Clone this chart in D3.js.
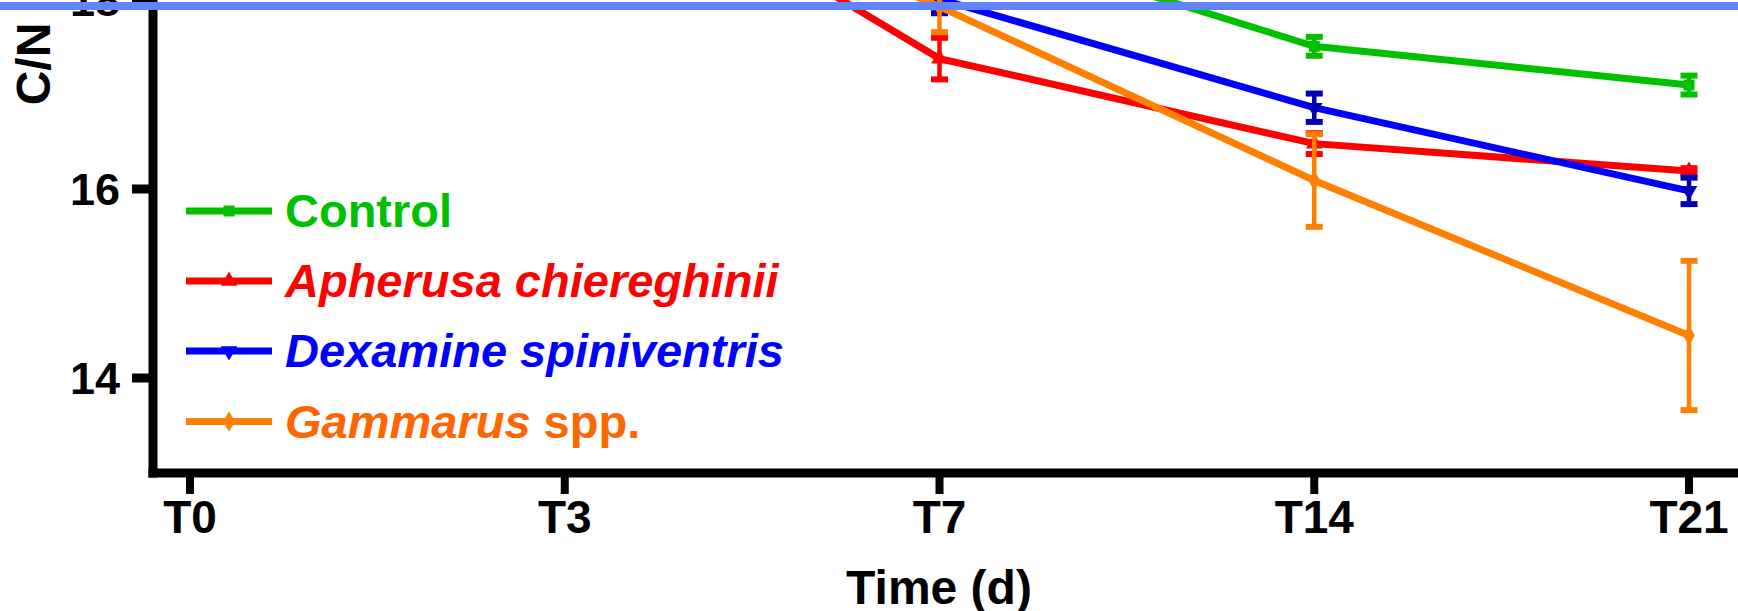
<!DOCTYPE html>
<html>
<head>
<meta charset="utf-8">
<script src="https://cdn.jsdelivr.net/npm/d3@7"></script>
<style>
  html, body { margin: 0; padding: 0; background: #ffffff; overflow: hidden; }
  svg { display: block; font-family: "Liberation Sans", Arial, sans-serif; }
</style>
</head>
<body>
<svg id="chart" width="1738" height="611"></svg>
<script>
// ---- data ----
const categories = ["T0", "T3", "T7", "T14", "T21"];
const seriesNames = ["Control", "Apherusa chiereghinii", "Dexamine spiniventris", "Gammarus spp."];
const controlMean   = [20.6, 19.9, 18.74, 17.51, 17.10];
const controlErr    = [0.10, 0.10, 0.10, 0.10, 0.10];
const apherusaMean  = [20.6, 19.75, 17.38, 16.48, 16.19];
const apherusaErr   = [0.10, 0.10, 0.22, 0.11, 0.03];
const dexamineMean  = [20.6, 19.5, 18.01, 16.86, 15.98];
const dexamineErr   = [0.10, 0.10, 0.15, 0.15, 0.14];
const gammarusMean  = [20.6, 19.6, 17.93, 16.09, 14.45];
const gammarusErr   = [0.10, 0.10, 0.27, 0.49, 0.79];
const yTickValues = [14, 16, 18, 20];
const yLabel = "C/N";
const xLabel = "Time (d)";

const series = [
  { name: seriesNames[0], mean: controlMean,  err: controlErr,  line: "#00c000", bar: "#00c000", text: "#00c000", sym: d3.symbolSquare,   rot: 0,   italic: false },
  { name: seriesNames[1], mean: apherusaMean, err: apherusaErr, line: "#ff0000", bar: "#ff0000", text: "#ff0000", sym: d3.symbolTriangle, rot: 0,   italic: true },
  { name: seriesNames[2], mean: dexamineMean, err: dexamineErr, line: "#0000ff", bar: "#0000b0", text: "#0000ff", sym: d3.symbolTriangle, rot: 180, italic: true },
  { name: seriesNames[3], mean: gammarusMean, err: gammarusErr, line: "#ff8000", bar: "#ff8000", text: "#ff6600", sym: d3.symbolDiamond,  rot: 0,   italic: "partial" }
];

const svg = d3.select("#chart");
const W = 1738, H = 611;

const x = d3.scalePoint().domain(categories).range([190, 1689]);
const y = d3.scaleLinear().domain([13, 21]).range([472.5, 472.5 - 8 * 94.5]);

const plot = svg.append("g");

// lines, error bars, markers
series.forEach(s => {
  const pts = categories.map((c, i) => ({ c, v: s.mean[i], e: s.err[i] }));
  plot.append("path")
    .datum(pts)
    .attr("fill", "none")
    .attr("stroke", s.line)
    .attr("stroke-width", 7)
    .attr("stroke-linejoin", "miter")
    .attr("d", d3.line().x(d => x(d.c)).y(d => y(d.v)));

  const eb = plot.append("g").attr("stroke", s.bar).attr("fill", "none");
  pts.forEach(d => {
    const cx = x(d.c);
    eb.append("line").attr("x1", cx).attr("x2", cx).attr("y1", y(d.v + d.e)).attr("y2", y(d.v - d.e)).attr("stroke-width", 4.5);
    [d.v + d.e, d.v - d.e].forEach(v => {
      eb.append("line").attr("x1", cx - 8.5).attr("x2", cx + 8.5).attr("y1", y(v)).attr("y2", y(v)).attr("stroke-width", 6);
    });
  });

  plot.append("g").selectAll("path")
    .data(pts)
    .join("path")
    .attr("transform", d => `translate(${x(d.c)},${y(d.v)}) rotate(${s.rot})`)
    .attr("d", d3.symbol().type(s.sym).size(120))
    .attr("fill", s.bar);
});

// axes
const yAxisX = 153, xAxisY = 473;
const axes = svg.append("g");
axes.append("line").attr("x1", yAxisX).attr("x2", yAxisX).attr("y1", -10).attr("y2", xAxisY + 4.5)
  .attr("stroke", "#000").attr("stroke-width", 9);
axes.append("line").attr("x1", yAxisX - 4.5).attr("x2", W + 10).attr("y1", xAxisY).attr("y2", xAxisY)
  .attr("stroke", "#000").attr("stroke-width", 9);

// y ticks
const yt = axes.append("g").selectAll("g").data(yTickValues).join("g")
  .attr("transform", d => `translate(0,${y(d)})`);
yt.append("line").attr("x1", 132).attr("x2", yAxisX).attr("y1", 0).attr("y2", 0)
  .attr("stroke", "#000").attr("stroke-width", 9);
yt.append("text").attr("x", 120).attr("y", 0).attr("dy", "0.36em")
  .attr("text-anchor", "end").attr("font-size", 45).attr("font-weight", "bold")
  .attr("fill", "#000").text(d => d);

// x ticks
const xt = axes.append("g").selectAll("g").data(categories).join("g")
  .attr("transform", d => `translate(${x(d)},0)`);
xt.append("line").attr("x1", 0).attr("x2", 0).attr("y1", xAxisY).attr("y2", 494)
  .attr("stroke", "#000").attr("stroke-width", 8);
xt.append("text").attr("x", 0).attr("y", 533)
  .attr("text-anchor", "middle").attr("font-size", 46).attr("font-weight", "bold")
  .attr("fill", "#000").text(d => d);

// axis titles
svg.append("text").attr("x", 939).attr("y", 604)
  .attr("text-anchor", "middle").attr("font-size", 48).attr("font-weight", "bold")
  .attr("fill", "#000").text(xLabel);
svg.append("text").attr("transform", "translate(50,64) rotate(-90)")
  .attr("text-anchor", "middle").attr("font-size", 48).attr("font-weight", "bold")
  .attr("fill", "#000").text(yLabel);

// legend
const legendY = [211, 281, 351, 421.5];
const lg = svg.append("g");
series.forEach((s, i) => {
  const g = lg.append("g").attr("transform", `translate(0,${legendY[i]})`);
  g.append("line").attr("x1", 186).attr("x2", 272).attr("y1", 0).attr("y2", 0)
    .attr("stroke", s.line).attr("stroke-width", 7);
  g.append("path").attr("transform", `translate(229,0) rotate(${s.rot})`)
    .attr("d", d3.symbol().type(s.sym).size(120)).attr("fill", s.line);
  const t = g.append("text").attr("x", 285).attr("y", 16)
    .attr("font-size", 47).attr("font-weight", "bold").attr("fill", s.text);
  if (s.italic === "partial") {
    const parts = s.name.split(" ");
    t.append("tspan").attr("font-style", "italic").text(parts[0]);
    t.append("tspan").text(" " + parts.slice(1).join(" "));
  } else {
    t.attr("font-style", s.italic ? "italic" : "normal").text(s.name);
  }
});

// top band
svg.append("rect").attr("x", 0).attr("y", 2).attr("width", W).attr("height", 8).attr("fill", "#6384f5");
</script>
</body>
</html>
